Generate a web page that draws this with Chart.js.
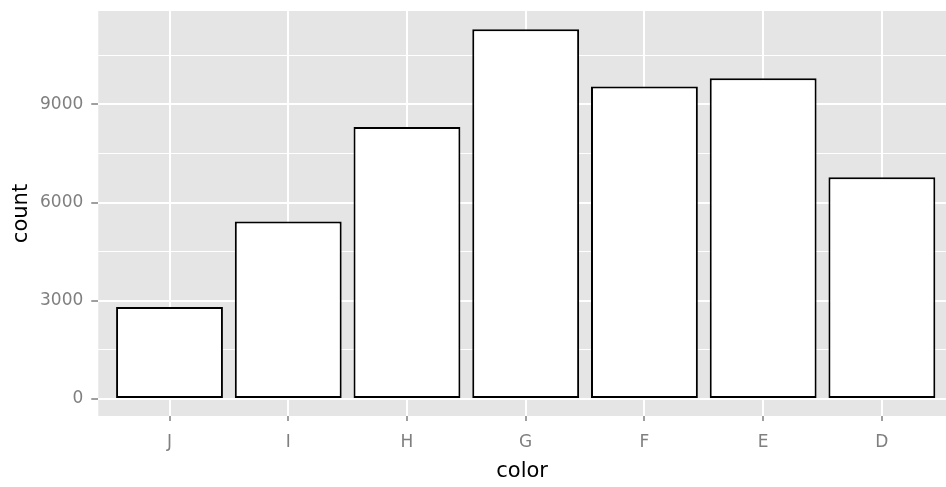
<!DOCTYPE html>
<html>
<head>
<meta charset="utf-8">
<script src="https://cdn.jsdelivr.net/npm/chart.js@4"></script>
<style>
html,body{margin:0;padding:0;background:#fff;}
#wrap{width:946px;height:487px;}
</style>
</head>
<body>
<div id="wrap"><canvas id="c" width="946" height="487"></canvas></div>
<script>
const categories = ["J", "I", "H", "G", "F", "E", "D"];
const counts = [2808, 5422, 8304, 11292, 9542, 9797, 6775];
const yMajorTicks = [0, 3000, 6000, 9000];
const yMinorTicks = [1500, 4500, 7500, 10500];

const FONT = 'DejaVu Sans, sans-serif';

const panelBg = {
  id: 'panelBg',
  beforeDraw(chart) {
    const {ctx, chartArea: a} = chart;
    ctx.save();
    ctx.fillStyle = '#E5E5E5';
    ctx.fillRect(a.left, a.top, a.right - a.left, a.bottom - a.top);
    ctx.restore();
  }
};

new Chart(document.getElementById('c'), {
  type: 'bar',
  data: {
    datasets: [{
      data: counts.map((v, i) => ({x: i, y: v})),
      backgroundColor: '#FFFFFF',
      borderColor: '#000000',
      borderWidth: 2,
      borderSkipped: false,
      barPercentage: 0.9,
      categoryPercentage: 1.0
    }]
  },
  options: {
    responsive: false,
    animation: false,
    devicePixelRatio: 1,
    layout: {padding: {top: 11, right: 0, bottom: 5, left: 11}},
    plugins: {legend: {display: false}, tooltip: {enabled: false}},
    scales: {
      x: {
        type: 'linear',
        offset: false,
        min: -0.6,
        max: 6.54,
        border: {display: false},
        afterBuildTicks: s => { s.ticks = categories.map((c, i) => ({value: i})); },
        grid: {offset: false, color: '#FFFFFF', lineWidth: 2, tickColor: '#7F7F7F', tickWidth: 1.5, tickLength: 5},
        ticks: {
          autoSkip: false,
          maxRotation: 0,
          color: '#7F7F7F',
          font: {family: FONT, size: 17, lineHeight: 1.0},
          padding: 13,
          callback: v => categories[v] ?? ''
        },
        title: {display: true, text: 'color', color: '#000', font: {family: FONT, size: 21, lineHeight: 0.714}, padding: {top: 0, bottom: 3}}
      },
      y: {
        min: -520,
        max: 11850,
        border: {display: false},
        afterBuildTicks: s => {
          s.ticks = yMajorTicks.concat(yMinorTicks).sort((a, b) => a - b).map(v => ({value: v}));
        },
        grid: {
          color: '#FFFFFF',
          lineWidth: c => (yMajorTicks.includes(c.tick?.value) ? 2 : 1),
          tickColor: c => (yMajorTicks.includes(c.tick?.value) ? '#7F7F7F' : 'rgba(0,0,0,0)'),
          tickWidth: 1.5,
          tickLength: 7
        },
        ticks: {
          autoSkip: false,
          color: '#7F7F7F',
          font: {family: FONT, size: 17, lineHeight: 0.3},
          padding: 8,
          callback: v => (yMajorTicks.includes(v) ? String(v) : '')
        },
        title: {display: true, text: 'count', color: '#000', font: {family: FONT, size: 21, lineHeight: 1.0}, padding: {top: 0, bottom: 0}}
      }
    }
  },
  plugins: [panelBg]
});
</script>
</body>
</html>
